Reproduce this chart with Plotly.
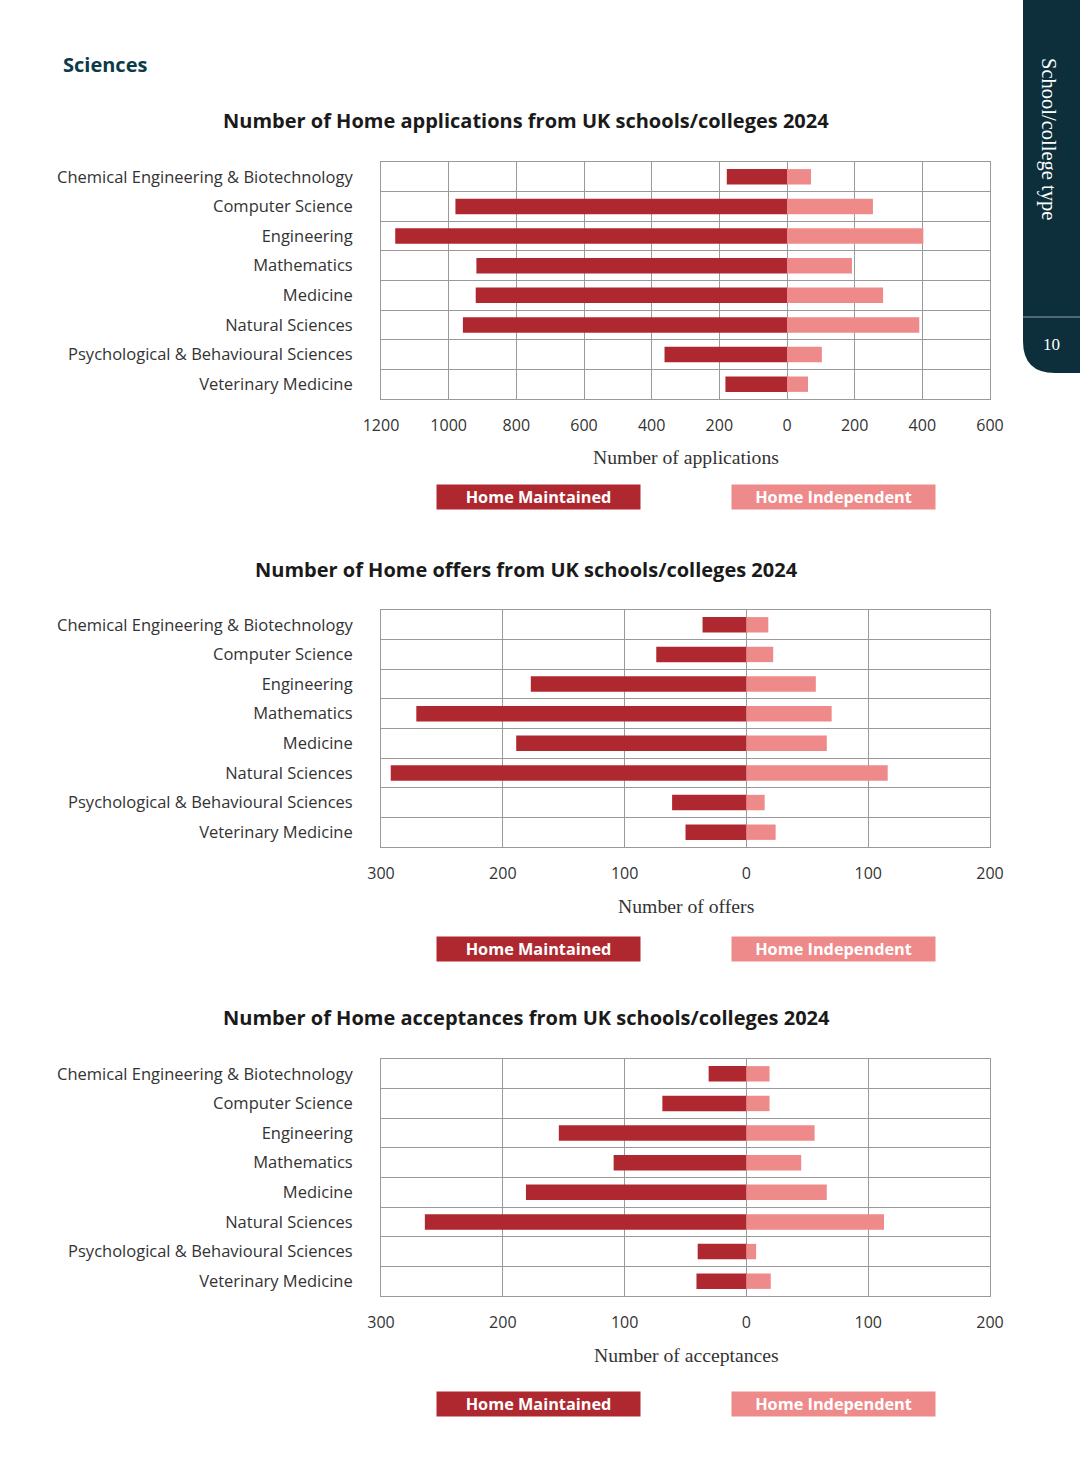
import plotly.graph_objects as go

W, H = 1080, 1463

categories = [
    "Chemical Engineering & Biotechnology",
    "Computer Science",
    "Engineering",
    "Mathematics",
    "Medicine",
    "Natural Sciences",
    "Psychological & Behavioural Sciences",
    "Veterinary Medicine",
]

applications_maintained = [178, 980, 1158, 918, 920, 958, 362, 182]
applications_independent = [71, 254, 403, 192, 284, 391, 103, 62]

offers_maintained = [36, 74, 177, 271, 189, 292, 61, 50]
offers_independent = [18, 22, 57, 70, 66, 116, 15, 24]

acceptances_maintained = [31, 69, 154, 109, 181, 264, 40, 41]
acceptances_independent = [19, 19, 56, 45, 66, 113, 8, 20]

apps_ticks = [-1200, -1000, -800, -600, -400, -200, 0, 200, 400, 600]
small_ticks = [-300, -200, -100, 0, 100, 200]

titles = [
    "Number of Home applications from UK schools/colleges 2024",
    "Number of Home offers from UK schools/colleges 2024",
    "Number of Home acceptances from UK schools/colleges 2024",
]
axis_titles = ["Number of applications", "Number of offers", "Number of acceptances"]
legend_names = ["Home Maintained", "Home Independent"]

C_MAINT = "#B0282F"
C_INDEP = "#EF8A8A"
GRID = "#9a9a9a"
TEXT = "#333333"
TEAL = "#0C2F3B"
SANS = "Open Sans"
SERIF = "Liberation Serif"

def px_x(x):
    return x / W

def px_y(y):
    return 1 - y / H

panels = [
    dict(top=162, bottom=399, maint=applications_maintained, indep=applications_independent,
         ticks=apps_ticks, rng=[-1200, 600], title_y=121, axt_y=457, leg_y=497),
    dict(top=610, bottom=847, maint=offers_maintained, indep=offers_independent,
         ticks=small_ticks, rng=[-300, 200], title_y=569, axt_y=906, leg_y=949),
    dict(top=1059, bottom=1296, maint=acceptances_maintained, indep=acceptances_independent,
         ticks=small_ticks, rng=[-300, 200], title_y=1018, axt_y=1355, leg_y=1404),
]

fig = go.Figure()
annotations = []
layout_axes = {}

for i, p in enumerate(panels):
    n = "" if i == 0 else str(i + 1)
    xa, ya = "x" + n, "y" + n
    fig.add_trace(go.Bar(
        y=categories, x=[-v for v in p["maint"]], orientation="h",
        marker=dict(color=C_MAINT, line=dict(width=0)), width=0.52,
        name=legend_names[0], xaxis=xa, yaxis=ya, showlegend=False,
    ))
    fig.add_trace(go.Bar(
        y=categories, x=p["indep"], orientation="h",
        marker=dict(color=C_INDEP, line=dict(width=0)), width=0.52,
        name=legend_names[1], xaxis=xa, yaxis=ya, showlegend=False,
    ))
    layout_axes["xaxis" + n] = dict(
        domain=[px_x(381), px_x(990)], anchor=ya, range=p["rng"], automargin=False,
        tickvals=p["ticks"], ticktext=[str(abs(t)) for t in p["ticks"]],
        showgrid=True, gridcolor=GRID, gridwidth=1, zeroline=False,
        showline=True, linecolor=GRID, linewidth=1, mirror=True,
        ticks="", ticklabelstandoff=12,
        tickfont=dict(family=SANS, size=16, color=TEXT), fixedrange=True,
    )
    layout_axes["yaxis" + n] = dict(
        domain=[px_y(p["bottom"]), px_y(p["top"])], anchor=xa, automargin=False,
        type="category", categoryorder="array", categoryarray=categories,
        autorange="reversed", tickson="boundaries",
        showgrid=True, gridcolor=GRID, gridwidth=1, zeroline=False,
        showline=True, linecolor=GRID, linewidth=1, mirror=True,
        ticks="", ticklabelstandoff=24,
        tickfont=dict(family=SANS, size=16.5, color=TEXT), fixedrange=True,
    )
    annotations.append(dict(
        text="<b>" + titles[i] + "</b>", x=px_x(526), y=px_y(p["title_y"]),
        xref="paper", yref="paper", xanchor="center", yanchor="middle",
        showarrow=False, font=dict(family=SANS, size=20, color="#1a1a1a"),
    ))
    annotations.append(dict(
        text=axis_titles[i], x=px_x(686), y=px_y(p["axt_y"]),
        xref="paper", yref="paper", xanchor="center", yanchor="middle",
        showarrow=False, font=dict(family=SERIF, size=19.7, color=TEXT),
    ))
    for name, col, cx in [(legend_names[0], C_MAINT, 538.5), (legend_names[1], C_INDEP, 833)]:
        annotations.append(dict(
            text="<b>" + name + "</b>", x=px_x(cx), y=px_y(p["leg_y"]),
            xref="paper", yref="paper", xanchor="center", yanchor="middle",
            showarrow=False, bgcolor=col, width=203, height=24, borderpad=0,
            font=dict(family=SANS, size=16.3, color="white"),
        ))

annotations.append(dict(
    text="<b>Sciences</b>", x=px_x(61), y=px_y(65), xref="paper", yref="paper",
    xanchor="left", yanchor="middle", showarrow=False,
    font=dict(family=SANS, size=20, color="#0D3A48"),
))
annotations.append(dict(
    text="School/college type", x=px_x(1049), y=px_y(139), xref="paper", yref="paper",
    xanchor="center", yanchor="middle", showarrow=False, textangle=90,
    font=dict(family=SERIF, size=20.5, color="white"),
))
annotations.append(dict(
    text="10", x=px_x(1051), y=px_y(345), xref="paper", yref="paper",
    xanchor="center", yanchor="middle", showarrow=False,
    font=dict(family=SERIF, size=17, color="white"),
))

x0, x1 = px_x(1023), 1.0
yb = px_y(373)
rx, ry = 32 / W, 32 / H
tab_path = (f"M {x0},1 L {x1},1 L {x1},{yb} L {x0 + rx},{yb} "
            f"Q {x0},{yb} {x0},{yb + ry} Z")
shapes = [
    dict(type="path", path=tab_path, xref="paper", yref="paper",
         fillcolor=TEAL, line=dict(width=0), layer="below"),
    dict(type="line", x0=x0, x1=x1, y0=px_y(317), y1=px_y(317), xref="paper", yref="paper",
         line=dict(color="#8fa3aa", width=1)),
]

fig.update_layout(
    width=W, height=H, autosize=False,
    margin=dict(l=0, r=0, t=0, b=0, pad=0),
    paper_bgcolor="white", plot_bgcolor="white",
    barmode="relative", bargap=0.48,
    annotations=annotations, shapes=shapes, showlegend=False,
    font=dict(family=SANS, color=TEXT),
    **layout_axes,
)

fig.write_html(
    "out.html",
    config={"displayModeBar": False},
    post_script="document.body.style.margin='0';document.body.style.overflow='hidden';",
)
